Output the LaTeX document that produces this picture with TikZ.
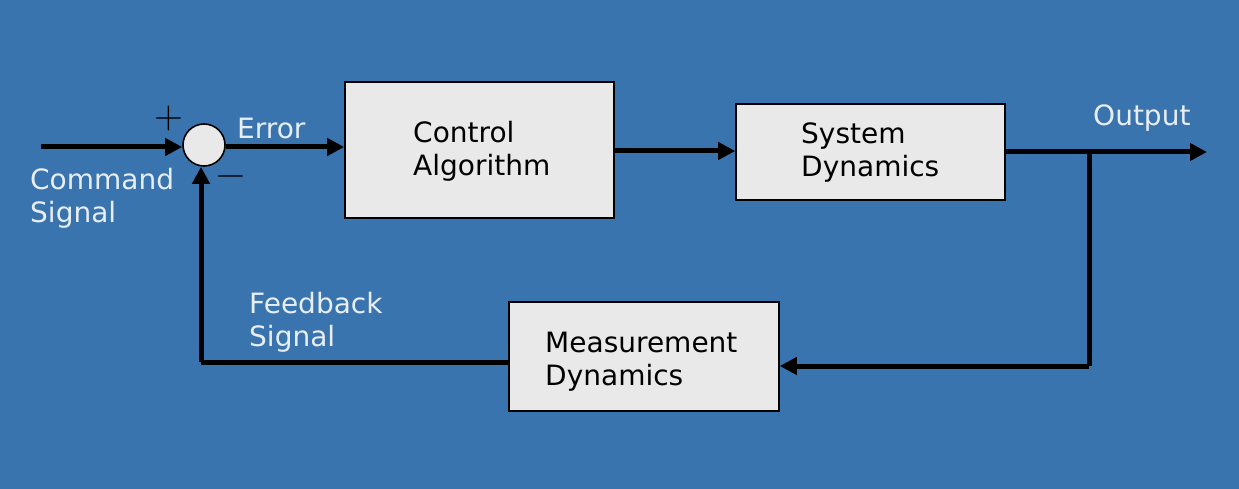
\documentclass[tikz,border=0pt]{standalone}
\usepackage{fontspec}
\setmainfont{DejaVu Sans}
\newfontfamily\lmfont{Latin Modern Roman}
\usetikzlibrary{arrows.meta}
\definecolor{bg}{RGB}{58,116,174}
\definecolor{boxfill}{RGB}{233,233,233}
\definecolor{lbl}{RGB}{232,238,245}
\begin{document}
\begin{tikzpicture}[x=1pt,y=-1pt,
  blockbox/.style={draw=black,line width=1.6pt,fill=boxfill},
  sig/.style={line width=5pt,-{Triangle[length=17pt,width=17pt]}},
  plain/.style={line width=5pt},
  blocktext/.style={font=\fontsize{28}{33}\selectfont,align=left,inner sep=0pt,anchor=west,text=black},
  lbltext/.style={font=\fontsize{28}{33}\selectfont,align=left,inner sep=0pt,anchor=west,text=lbl},
  signtext/.style={font=\lmfont\fontsize{40}{40}\selectfont,inner sep=0pt,text=black}]
\fill[bg] (0,0) rectangle (1239,489);
\useasboundingbox (0,0) rectangle (1239,489);
% blocks
\node[blockbox,minimum width=269pt,minimum height=136pt,inner sep=0pt] (ctrl) at (479.5,150) {};
\node[blockbox,minimum width=269pt,minimum height=96pt,inner sep=0pt] (sys) at (870.5,152) {};
\node[blockbox,minimum width=270pt,minimum height=109pt,inner sep=0pt] (meas) at (644,356.5) {};
\node[draw=black,line width=1.6pt,fill=boxfill,circle,minimum size=42pt,inner sep=0pt] (sum) at (204,145) {};
% block texts
\node[blocktext] (ctrlT) at (413,151) {Control\\Algorithm};
\node[blocktext] (sysT) at (801,153) {System\\Dynamics};
\node[blocktext] (measT) at (545,362) {Measurement\\Dynamics};
% labels
\node[lbltext] (cmd) at (30,198) {Command\\Signal};
\node[lbltext] (err) at (237,128) {Error};
\node[lbltext] (out) at (1093,118) {Output};
\node[lbltext] (fb) at (249,322) {Feedback\\Signal};
\node[signtext] (plus) at (169,119) {+};
\node[signtext] (minus) at (231,181) {−};
% coordinates
\coordinate (in) at (41,147);
\coordinate (outEnd) at (1207,152);
\coordinate (branch) at (1089,152);
\coordinate (branchLow) at (1089,366);
\coordinate (fbCorner) at (201,362);
% connectors
\draw[sig] (in) -- (sum.west |- in);
\draw[sig] (sum.east |- in) -- (ctrl.west |- in);
\draw[sig] (ctrl.east |- 0,151) -- (sys.west |- 0,151);
\draw[sig] (sys.east |- outEnd) -- (outEnd);
\draw[plain] (branch) -- (branchLow);
\draw[sig] (branchLow) -- (meas.east |- branchLow);
\draw[plain] (meas.west |- fbCorner) -- (fbCorner);
\draw[sig] (fbCorner) -- (fbCorner |- sum.south);
\end{tikzpicture}
\end{document}
